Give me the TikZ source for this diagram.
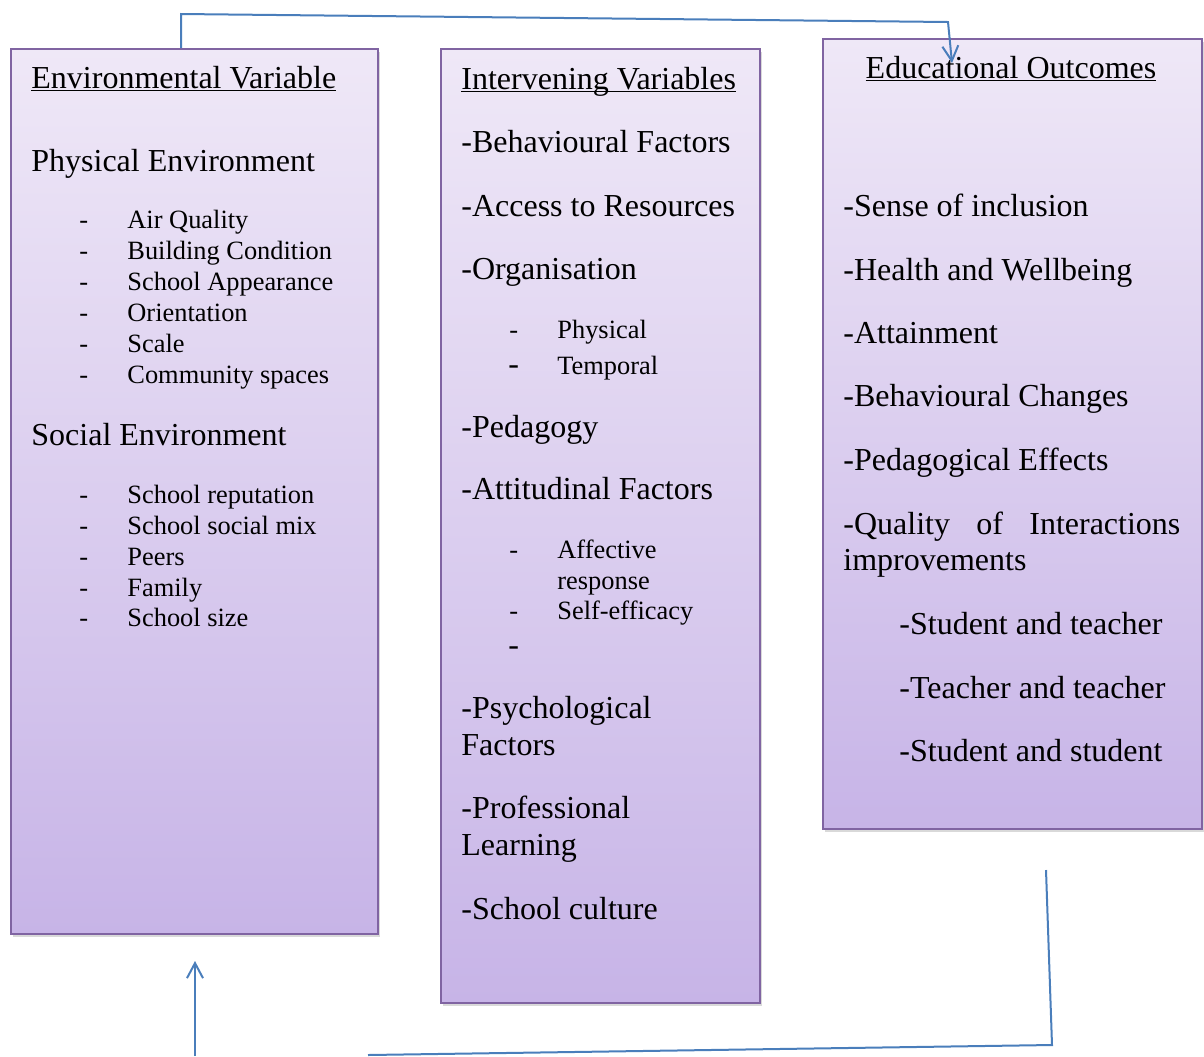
\documentclass[tikz,border=0pt]{standalone}
\usepackage{fontspec}
\setmainfont{Liberation Serif}
\usetikzlibrary{arrows.meta,shadows}
\definecolor{boxtop}{RGB}{239,232,247}
\definecolor{boxbot}{RGB}{199,180,231}
\definecolor{boxline}{RGB}{128,100,162}
\definecolor{linkblue}{RGB}{74,126,187}
\newcommand{\headline}[1]{\underline{\smash{#1}}}
\begin{document}
\begin{tikzpicture}[x=0.5pt, y=-0.5pt,
    panel/.style={draw=boxline, line width=1pt, top color=boxtop, bottom color=boxbot,
        anchor=north west, inner sep=0pt,
        drop shadow={shadow xshift=1pt, shadow yshift=-1.5pt, opacity=0.3}},
    big/.style={anchor=base west, inner sep=0pt, font=\fontsize{16}{18}\selectfont},
    small/.style={anchor=base west, inner sep=0pt, font=\fontsize{13.2}{15}\selectfont},
    link/.style={draw=linkblue, line width=1pt},
    tip/.style={-{Straight Barb[length=7.5pt,width=8pt]}}]
    \useasboundingbox (0,0) rectangle (1204,1056);
    % the three columns
    \node[panel, minimum width=183.5pt, minimum height=442.5pt] (envbox) at (10,48) {};
    \node[panel, minimum width=159.5pt, minimum height=477pt] (intbox) at (440,48) {};
    \node[panel, minimum width=189.5pt, minimum height=395pt] (outbox) at (822,38) {};
    % environmental variable
    \node[big] (envhead) at (31,88) {\headline{Environmental Variable}};
    \node[big] (phys) at (31,171) {Physical Environment};
    \node[small] (d1) at (79,228) {-};  \node[small] (air) at (127,228) {Air Quality};
    \node[small] (d2) at (79,259) {-};  \node[small] (build) at (127,259) {Building Condition};
    \node[small] (d3) at (79,290) {-};  \node[small] (appear) at (127,290) {School Appearance};
    \node[small] (d4) at (79,321) {-};  \node[small] (orient) at (127,321) {Orientation};
    \node[small] (d5) at (79,352) {-};  \node[small] (scale) at (127,352) {Scale};
    \node[small] (d6) at (79,383) {-};  \node[small] (comm) at (127,383) {Community spaces};
    \node[big] (social) at (31,445) {Social Environment};
    \node[small] (d7) at (79,503) {-};  \node[small] (rep) at (127,503) {School reputation};
    \node[small] (d8) at (79,534) {-};  \node[small] (mix) at (127,534) {School social mix};
    \node[small] (d9) at (79,565) {-};  \node[small] (peers) at (127,565) {Peers};
    \node[small] (d10) at (79,596) {-}; \node[small] (family) at (127,596) {Family};
    \node[small] (d11) at (79,626) {-}; \node[small] (size) at (127,626) {School size};
    % intervening variables
    \node[big] (inthead) at (461,89) {\headline{Intervening Variables}};
    \node[big] (behav) at (461,152) {-Behavioural Factors};
    \node[big] (access) at (461,216) {-Access to Resources};
    \node[big] (organ) at (461,279) {-Organisation};
    \node[small] (d12) at (509,338) {-}; \node[small] (physical) at (557,338) {Physical};
    \node[big] (d13) at (508,374) {-};   \node[small] (temporal) at (557,374) {Temporal};
    \node[big] (pedag) at (461,437) {-Pedagogy};
    \node[big] (attit) at (461,499) {-Attitudinal Factors};
    \node[small] (d14) at (509,558) {-}; \node[small] (affect) at (557,558) {Affective};
    \node[small] (resp) at (557,589) {response};
    \node[small] (d15) at (509,619) {-}; \node[small] (selfeff) at (557,619) {Self-efficacy};
    \node[big] (d16) at (508,655) {-};
    \node[big] (psych) at (461,718) {-Psychological};
    \node[big] (psychb) at (461,755) {Factors};
    \node[big] (prof) at (461,818) {-Professional};
    \node[big] (profb) at (461,855) {Learning};
    \node[big] (cult) at (461,919) {-School culture};
    % educational outcomes
    \node[big, anchor=base] (outhead) at (1011,78) {\headline{Educational Outcomes}};
    \node[big] (incl) at (843,216) {-Sense of inclusion};
    \node[big] (health) at (843,280) {-Health and Wellbeing};
    \node[big] (attain) at (843,343) {-Attainment};
    \node[big] (bchange) at (843,406) {-Behavioural Changes};
    \node[big] (pedeff) at (843,470) {-Pedagogical Effects};
    \node[big] (qual) at (843,534) {\makebox[168.5pt][s]{-Quality of Interactions}};
    \node[big] (qualb) at (843,570) {improvements};
    \node[big] (st) at (899,634) {-Student and teacher};
    \node[big] (tt) at (899,698) {-Teacher and teacher};
    \node[big] (ss) at (899,761) {-Student and student};
    % connectors
    \coordinate (topa) at (181,48);
    \coordinate (topb) at (181,14);
    \coordinate (topc) at (948,22);
    \coordinate (topd) at (952,63);
    \draw[link, tip] (topa) -- (topb) -- (topc) -- (topd);
    \coordinate (bota) at (1046,870);
    \coordinate (botb) at (1052,1045);
    \coordinate (botc) at (368,1055);
    \draw[link] (bota) -- (botb) -- (botc);
    \coordinate (upa) at (195,1056);
    \coordinate (upb) at (195,961);
    \draw[link, tip] (upa) -- (upb);
\end{tikzpicture}
\end{document}
